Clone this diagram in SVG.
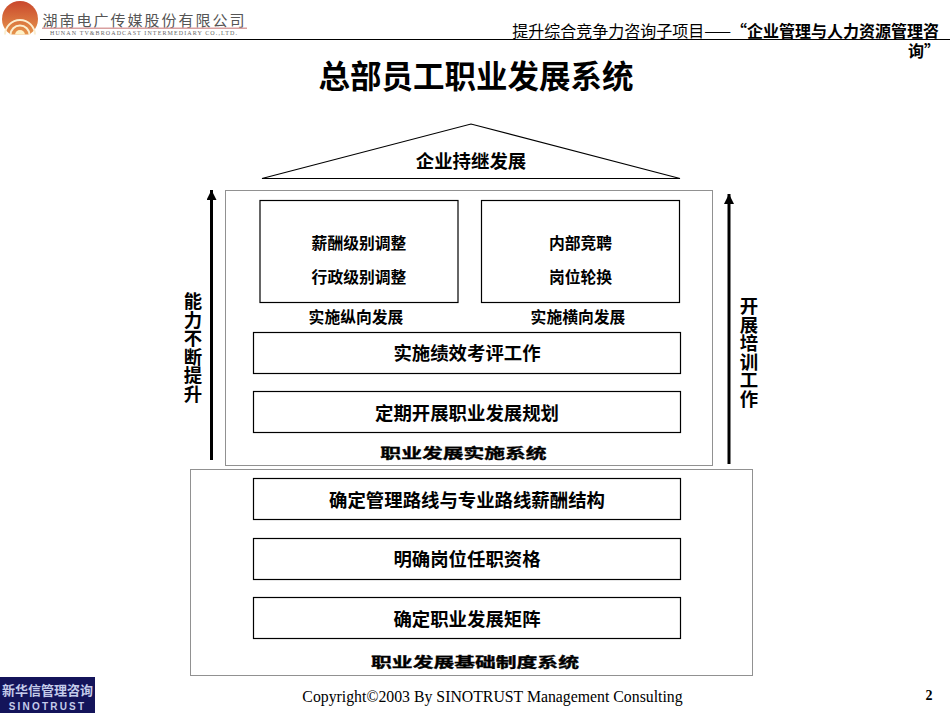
<svg xmlns="http://www.w3.org/2000/svg" width="950" height="713" viewBox="0 0 950 713">
<style>
text{font-family:"Noto Sans CJK SC","Liberation Sans",sans-serif;fill:#000;font-weight:700;text-anchor:middle}
.box{fill:#fff;stroke:#000;stroke-width:1.200}
.dash{fill:none;stroke:#222;stroke-width:1;stroke-dasharray:1 1}
.l18{font-size:18.400px}
.l16{font-size:15.800px}
.sys{font-size:16px;stroke:#000;stroke-width:.4px}
.arrow{stroke:#000;stroke-width:3;fill:none;marker-end:url(#head)}
.serif{font-family:"Liberation Serif","Noto Sans CJK SC",serif;font-weight:400}
</style>
<defs>
<marker id="head" markerUnits="userSpaceOnUse" markerWidth="10" markerHeight="10" refX="9" refY="4.500" orient="auto" viewBox="0 0 9 9"><path d="M0 0L9 4.500L0 9Z" fill="#000"/></marker>
<clipPath id="dome"><rect x="0" y="0" width="40" height="34.500"/></clipPath>
<linearGradient id="sun" x1="0" y1="0" x2="0" y2="1"><stop offset="0" stop-color="#c9472c"/><stop offset="1" stop-color="#e89a4e"/></linearGradient>
</defs>
<rect width="950" height="713" fill="#fff"/>
<g id="logo">
<g clip-path="url(#dome)">
<circle cx="20" cy="19" r="18" fill="url(#sun)"/>
<circle cx="20" cy="35" r="15" fill="none" stroke="#fbeed0" stroke-width="2"/>
<circle cx="20" cy="35" r="9.500" fill="none" stroke="#fbeed0" stroke-width="2"/>
<circle cx="20" cy="35" r="5" fill="#fff2c8"/>
</g>
<text x="144.500" y="26" style="font-size:15px;font-family:'Noto Sans CJK SC',serif;font-weight:400;fill:#555;letter-spacing:2px">湖南电广传媒股份有限公司</text>
<rect x="42" y="27.500" width="205" height="1.500" fill="#d9a0a0"/>
<text x="144" y="35" class="serif" style="font-size:6px;fill:#666;letter-spacing:1.100px">HUNAN TV&amp;BROADCAST INTERMEDIARY CO.,LTD.</text>
</g>
<g id="header">
<line x1="40" y1="39.500" x2="950" y2="39.500" stroke="#000" stroke-width="1.200"/>
<text x="939" y="37" style="font-size:16px;text-anchor:end"><tspan font-weight="400">提升综合竞争力咨询子项目——</tspan>“企业管理与人力资源管理咨</text>
<text x="940" y="57" style="font-size:16px;text-anchor:end">询”</text>
</g>
<text id="title" x="476" y="88" style="font-size:31.500px">总部员工职业发展系统</text>
<g id="roof">
<path d="M262 178.500L471 124L680 178.500Z" fill="#fff" stroke="#000" stroke-width="1.200"/>
<text x="471" y="168" class="l18">企业持继发展</text>
</g>
<g id="connectors">
<line class="arrow" x1="211.500" y1="460" x2="211.500" y2="190"/>
<line class="arrow" x1="729" y1="464" x2="729" y2="194"/>
</g>
<g id="impl-system">
<rect class="dash" x="225.500" y="190.500" width="487" height="275"/>
<text transform="translate(463.500 457.500) scale(1.300 .85)" class="sys">职业发展实施系统</text>
</g>
<g id="base-system">
<rect class="dash" x="190.500" y="469.500" width="562" height="206"/>
<text transform="translate(475 667) scale(1.300 .85)" class="sys">职业发展基础制度系统</text>
</g>
<g id="n-vertical">
<rect class="box" x="260" y="200.500" width="198" height="102"/>
<text x="359" y="248.500" class="l16">薪酬级别调整</text>
<text x="359" y="283" class="l16">行政级别调整</text>
</g>
<g id="n-horizontal">
<rect class="box" x="481.500" y="200.500" width="198" height="102"/>
<text x="580.500" y="248.500" class="l16">内部竞聘</text>
<text x="580.500" y="283" class="l16">岗位轮换</text>
</g>
<text id="l-vertical" x="356" y="323" class="l16">实施纵向发展</text>
<text id="l-horizontal" x="578" y="323" class="l16">实施横向发展</text>
<g id="n-perf"><rect class="box" x="253.500" y="332.500" width="427" height="41"/><text x="467" y="360" class="l18">实施绩效考评工作</text></g>
<g id="n-plan"><rect class="box" x="253.500" y="391.500" width="427" height="41"/><text x="467" y="420" class="l18">定期开展职业发展规划</text></g>
<g id="n-salary"><rect class="box" x="253.500" y="478.500" width="427" height="41"/><text x="467" y="506.500" class="l18">确定管理路线与专业路线薪酬结构</text></g>
<g id="n-qual"><rect class="box" x="253.500" y="538.500" width="427" height="41"/><text x="467" y="566" class="l18">明确岗位任职资格</text></g>
<g id="n-matrix"><rect class="box" x="253.500" y="597.500" width="427" height="41"/><text x="467" y="625.500" class="l18">确定职业发展矩阵</text></g>
<text id="left-label" class="l18" y="308"><tspan x="193">能</tspan><tspan x="193" dy="18.500">力</tspan><tspan x="193" dy="18.500">不</tspan><tspan x="193" dy="18.500">断</tspan><tspan x="193" dy="18.500">提</tspan><tspan x="193" dy="18.500">升</tspan></text>
<text id="right-label" class="l18" y="313"><tspan x="749">开</tspan><tspan x="749" dy="18.500">展</tspan><tspan x="749" dy="18.500">培</tspan><tspan x="749" dy="18.500">训</tspan><tspan x="749" dy="18.500">工</tspan><tspan x="749" dy="18.500">作</tspan></text>
<g id="sinotrust">
<rect x="0" y="677" width="95" height="36" fill="#14145a"/>
<text x="47.500" y="695" style="font-size:13px;fill:#c4cbea">新华信管理咨询</text>
<text x="47.500" y="710" style="font-size:10px;fill:#c4cbea;letter-spacing:2.200px;font-family:'Liberation Sans',sans-serif">SINOTRUST</text>
</g>
<text id="copyright" x="492.500" y="702" class="serif" style="font-size:15.800px">Copyright©2003 By SINOTRUST Management Consulting</text>
<text id="page" x="929" y="700" style="font-size:14px;font-family:'Liberation Serif',serif">2</text>
</svg>
